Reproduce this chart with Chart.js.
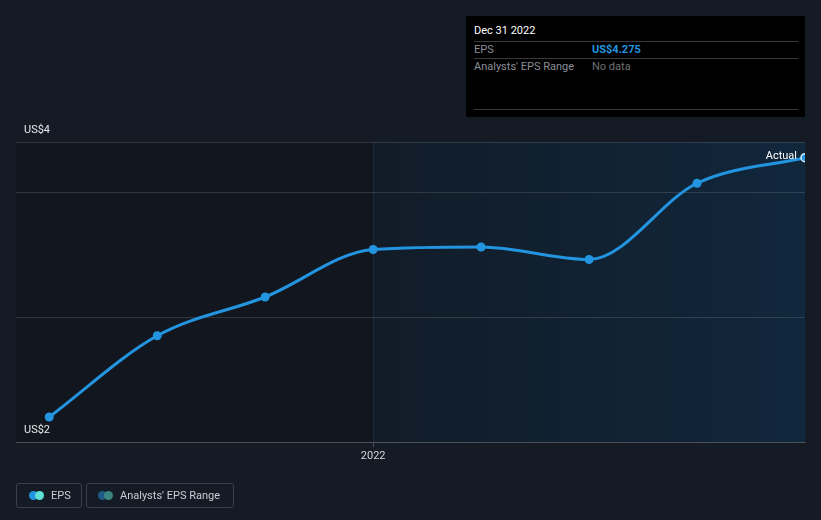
<!DOCTYPE html>
<html><head><meta charset="utf-8">
<script src="https://cdn.jsdelivr.net/npm/chart.js@4/dist/chart.umd.min.js"></script>
<style>
html,body{margin:0;padding:0;background:#151b25;width:821px;height:520px;overflow:hidden;font-family:Roboto,"Noto Sans",sans-serif;}
#wrap{position:relative;width:821px;height:520px;}
canvas{position:absolute;left:0;top:0;}
#tip{position:absolute;left:466px;top:16px;width:339px;height:101px;background:#000;font-size:11px;}
#tip .t{position:absolute;left:8px;top:8px;color:#fff;}
#tip .ln{position:absolute;left:8px;width:324px;height:1px;background:#3a3a3a;}
#tip .k{position:absolute;left:8px;color:#8a8f96;}
#tip .v{position:absolute;left:126px;}
.leg{position:absolute;top:483px;height:25px;border:1px solid #3a404a;border-radius:3px;box-sizing:border-box;color:#c9cdd3;font-size:11px;line-height:23px;}
.dot{position:absolute;top:7px;width:9px;height:9px;border-radius:50%;}
</style></head>
<body><div id="wrap">
<canvas id="c" width="821" height="520"></canvas>
<div id="tip">
  <div class="t">Dec 31 2022</div>
  <div class="ln" style="top:25px"></div>
  <div class="k" style="top:27px">EPS</div><div class="v" style="top:27px;color:#2394df;font-weight:bold">US$4.275</div>
  <div class="ln" style="top:42px"></div>
  <div class="k" style="top:44px">Analysts' EPS Range</div><div class="v" style="top:44px;color:#6c7077">No data</div>
  <div class="ln" style="top:93px"></div>
</div>
<div class="leg" style="left:16px;width:66px;">
  <span class="dot" style="left:12px;background:#2394df"></span><span class="dot" style="left:18px;background:#5fe0d6"></span>
  <span style="position:absolute;left:34px">EPS</span>
</div>
<div class="leg" style="left:86px;width:148px;">
  <span class="dot" style="left:11px;background:#1f5a86"></span><span class="dot" style="left:17px;background:#3d8580"></span>
  <span style="position:absolute;left:33px">Analysts' EPS Range</span>
</div>
</div>
<script>
const periods = ["Mar 31 2021","Jun 30 2021","Sep 30 2021","Dec 31 2021","Mar 31 2022","Jun 30 2022","Sep 30 2022","Dec 31 2022"];
const periodYears = [2021.25, 2021.5, 2021.75, 2022.0, 2022.25, 2022.5, 2022.75, 2023.0];
const eps = [2.2, 2.85, 3.16, 3.54, 3.56, 3.46, 4.07, 4.275];
const yTickValues = [2, 3, 4, 4.4];
const yLabels = ["US$4", "US$2"];
const xTickValues = [2022];
const xTickLabels = ["2022"];

const bgPlugin = {
  id: 'bg',
  beforeDraw(chart) {
    const {ctx, chartArea: a, scales: {x}} = chart;
    ctx.save();
    ctx.fillStyle = '#151b25';
    ctx.fillRect(0, 0, chart.width, chart.height);
    const split = x.getPixelForValue(2022);
    ctx.fillStyle = '#12171f';
    ctx.fillRect(a.left, a.top, split - a.left, a.bottom - a.top);
    const g = ctx.createLinearGradient(split, 0, a.right, 0);
    g.addColorStop(0, '#111c28');
    g.addColorStop(1, '#11273c');
    ctx.fillStyle = g;
    ctx.fillRect(split, a.top, a.right - split, a.bottom - a.top);
    ctx.strokeStyle = '#1d2a36';
    ctx.lineWidth = 1;
    ctx.beginPath();
    ctx.moveTo(Math.round(split) + 0.5, a.top);
    ctx.lineTo(Math.round(split) + 0.5, a.bottom);
    ctx.stroke();
    ctx.restore();
  },
  afterDraw(chart) {
    const {ctx, chartArea: a} = chart;
    ctx.save();
    ctx.font = '11px Roboto';
    ctx.fillStyle = '#e6e8eb';
    ctx.textAlign = 'left';
    ctx.textBaseline = 'middle';
    ctx.fillText(yLabels[0], a.left + 8, a.top - 12);
    ctx.fillText(yLabels[1], a.left + 8, a.bottom - 12);
    const meta = chart.getDatasetMeta(0);
    const last = meta.data[meta.data.length - 1];
    ctx.textAlign = 'right';
    ctx.textBaseline = 'alphabetic';
    ctx.fillStyle = '#ffffff';
    ctx.fillText('Actual', last.x - 8, last.y + 1);
    ctx.restore();
  }
};

new Chart(document.getElementById('c'), {
  type: 'line',
  data: {
    datasets: [{
      label: 'EPS',
      data: periodYears.map((p, i) => ({x: p, y: eps[i]})),
      borderColor: '#2394df',
      backgroundColor: '#2394df',
      borderWidth: 3,
      pointRadius: eps.map((v, i) => i === eps.length - 1 ? 4 : 4.5),
      pointBackgroundColor: '#2394df',
      pointBorderColor: eps.map((v, i) => i === eps.length - 1 ? '#d8eefc' : '#2394df'),
      pointBorderWidth: eps.map((v, i) => i === eps.length - 1 ? 1.5 : 0),
      cubicInterpolationMode: 'monotone',
      clip: {left: 6, right: 0, top: 6, bottom: 6}
    }]
  },
  options: {
    responsive: false,
    animation: false,
    events: [],
    layout: {padding: {left: 16, right: 16, top: 142, bottom: 58}},
    plugins: {legend: {display: false}, tooltip: {enabled: false}},
    scales: {
      x: {
        type: 'linear',
        min: 2021.173, max: 2023.0,
        afterBuildTicks(s) { s.ticks = xTickValues.map(v => ({value: v})); },
        afterFit(s) { s.height = 20; },
        ticks: {
          callback: (v) => xTickLabels[xTickValues.indexOf(v)] || '',
          color: '#d4d7dc', font: {family: 'Roboto', size: 11}, padding: 3, maxRotation: 0
        },
        grid: {drawOnChartArea: false, drawTicks: true, tickLength: 5, color: '#4a4f58'},
        border: {display: true, color: '#4a4f58', width: 1}
      },
      y: {
        min: 2, max: 4.4,
        afterBuildTicks(s) { s.ticks = yTickValues.map(v => ({value: v})); },
        afterFit(s) { s.width = 0; },
        ticks: {display: false},
        grid: {color: 'rgba(255,255,255,0.13)', drawTicks: false, lineWidth: 1},
        border: {display: false}
      }
    }
  },
  plugins: [bgPlugin]
});
</script>
</body></html>
